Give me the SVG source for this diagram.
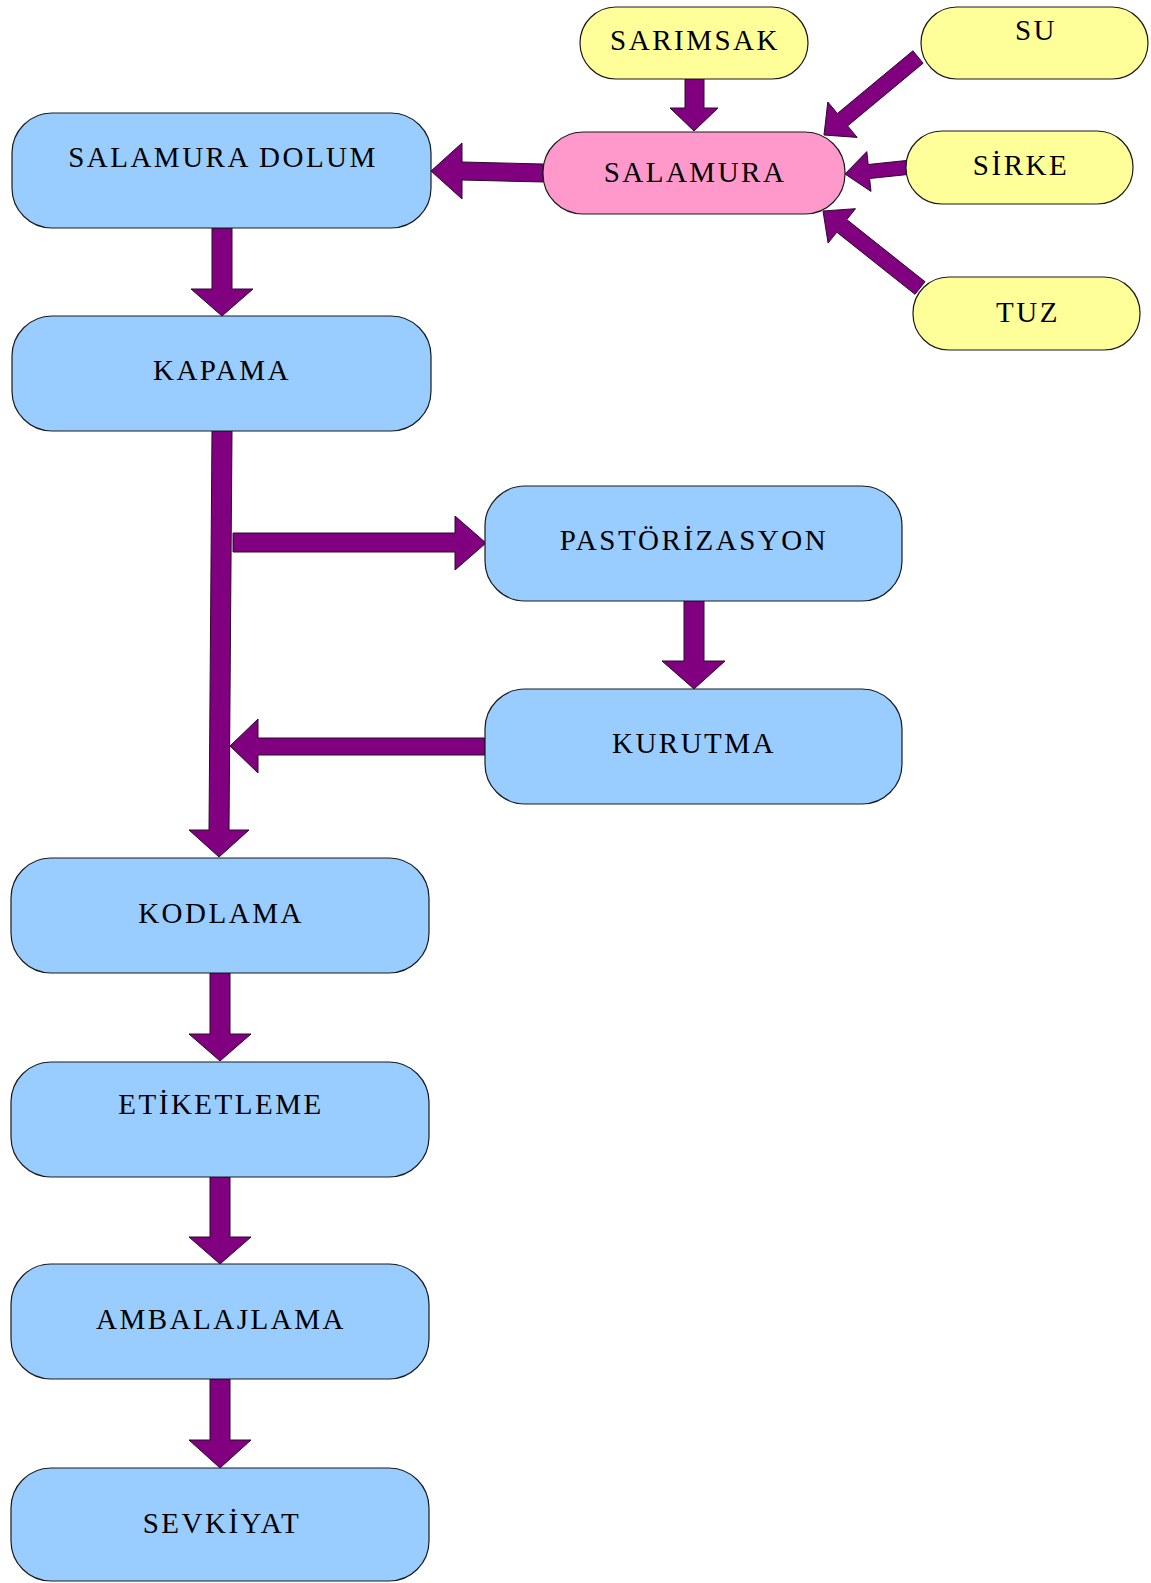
<svg xmlns="http://www.w3.org/2000/svg" width="1151" height="1583" viewBox="0 0 1151 1583">
<style>
.box{stroke:#1a1a1a;stroke-width:1.2}
.blue{fill:#99ccff}
.yellow{fill:#ffff99}
.pink{fill:#ff99cc}
.arr{fill:#800080;stroke:#2a0a2a;stroke-width:1}
.t{font-family:"Liberation Serif","Times New Roman",serif;font-size:29px;letter-spacing:2.5px;fill:#000;text-anchor:middle}
</style>
<rect width="1151" height="1583" fill="#ffffff"/>
<g id="connectors">
<polygon class="arr" points="685,79 704,79 704,108 718,108 694,131 670,108 685,108"/>
<polygon class="arr" points="912.9,50.8 837.4,113.5 827.8,102 824,135 857.2,137.4 847.6,125.9 923.1,63.2"/>
<polygon class="arr" points="906.3,160.5 868.2,164.5 866.8,151.6 845,174 871,191.4 869.6,178.5 907.7,174.5"/>
<polygon class="arr" points="925,281.7 846.8,219.6 855.5,208.7 823,211 828.1,243.1 836.8,232.2 915,294.3"/>
<polygon class="arr" points="543,164 462,162 462,143 431,171 462,199 462,180 543,182"/>
<polygon class="arr" points="212,228 232,228 232,289 253,289 222,316 191,289 212,289"/>
<polygon class="arr" points="212,431 232,431 229,830 249,830 219,857 189,830 209,830"/>
<polygon class="arr" points="233,533 455,533 455,516 486,543 455,570 455,552 233,552"/>
<polygon class="arr" points="684,601 704,601 704,661 725,661 694,689 662,661 684,661"/>
<polygon class="arr" points="485,738 258,738 258,719 230,746 258,773 258,755 485,755"/>
<polygon class="arr" points="210,973 230,973 230,1034 251,1034 220,1061 189,1034 210,1034"/>
<polygon class="arr" points="210,1177 230,1177 230,1237 251,1237 220,1264 189,1237 210,1237"/>
<polygon class="arr" points="210,1379 230,1379 230,1440 251,1440 220,1468 189,1440 210,1440"/>
</g>
<g id="sarimsak"><rect class="box yellow" x="580" y="7" width="228" height="72" rx="36"/><text class="t" x="695" y="50">SARIMSAK</text></g>
<g id="su"><rect class="box yellow" x="921" y="7" width="227" height="72" rx="36"/><text class="t" x="1036" y="40">SU</text></g>
<g id="salamura"><rect class="box pink" x="543" y="132" width="302" height="82" rx="40"/><text class="t" x="695" y="182">SALAMURA</text></g>
<g id="sirke"><rect class="box yellow" x="906" y="131" width="227" height="73" rx="36"/><text class="t" x="1021" y="175">SİRKE</text></g>
<g id="tuz"><rect class="box yellow" x="913" y="277" width="227" height="73" rx="36"/><text class="t" x="1028" y="322">TUZ</text></g>
<g id="salamura-dolum"><rect class="box blue" x="12" y="113" width="419" height="115" rx="40"/><text class="t" x="223" y="167">SALAMURA DOLUM</text></g>
<g id="kapama"><rect class="box blue" x="12" y="316" width="419" height="115" rx="40"/><text class="t" x="222" y="380">KAPAMA</text></g>
<g id="pastorizasyon"><rect class="box blue" x="485" y="486" width="417" height="115" rx="40"/><text class="t" x="694" y="550">PASTÖRİZASYON</text></g>
<g id="kurutma"><rect class="box blue" x="485" y="689" width="417" height="115" rx="40"/><text class="t" x="694" y="753">KURUTMA</text></g>
<g id="kodlama"><rect class="box blue" x="11" y="858" width="418" height="115" rx="40"/><text class="t" x="221" y="923">KODLAMA</text></g>
<g id="etiketleme"><rect class="box blue" x="11" y="1062" width="418" height="115" rx="40"/><text class="t" x="221" y="1114">ETİKETLEME</text></g>
<g id="ambalajlama"><rect class="box blue" x="11" y="1264" width="418" height="115" rx="40"/><text class="t" x="221" y="1329">AMBALAJLAMA</text></g>
<g id="sevkiyat"><rect class="box blue" x="11" y="1468" width="418" height="113" rx="40"/><text class="t" x="222" y="1533">SEVKİYAT</text></g>
</svg>
